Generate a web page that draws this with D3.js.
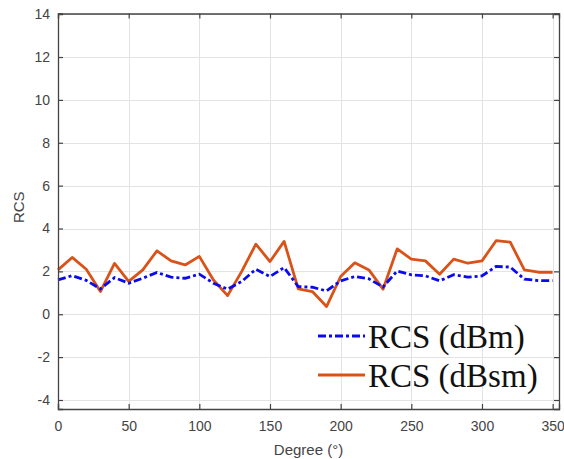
<!DOCTYPE html>
<html>
<head>
<meta charset="utf-8">
<script src="https://cdn.jsdelivr.net/npm/d3@7"></script>
<style>
  html, body { margin: 0; padding: 0; background: #fff; }
  svg { display: block; }
</style>
</head>
<body>
<svg id="chart" width="564" height="459"></svg>
<script>
// Scan angles in degrees
const degrees = [0,10,20,30,40,50,60,70,80,90,100,110,120,130,140,150,160,170,
                 180,190,200,210,220,230,240,250,260,270,280,290,300,310,320,330,340,350];
// RCS in dBm
const rcsDbm = [1.60,1.80,1.58,1.18,1.71,1.45,1.68,1.95,1.73,1.68,1.87,1.45,1.17,1.53,2.10,1.76,2.18,1.29,
                1.26,1.09,1.56,1.76,1.65,1.27,2.02,1.84,1.79,1.56,1.84,1.73,1.79,2.23,2.20,1.64,1.57,1.57];
// RCS in dBsm
const rcsDbsm = [2.07,2.65,2.10,1.06,2.37,1.53,2.07,2.96,2.49,2.30,2.70,1.60,0.87,2.00,3.27,2.46,3.40,1.18,
                 1.06,0.36,1.76,2.40,2.07,1.17,3.05,2.57,2.49,1.87,2.57,2.38,2.49,3.43,3.36,2.07,1.96,1.96];
const xTicks = [0,50,100,150,200,250,300,350];
const yTicks = [-4,-2,0,2,4,6,8,10,12,14];
const seriesNames = ["RCS (dBm)", "RCS (dBsm)"];

const svg = d3.select("#chart");
const plotLeft = 58, plotRight = 559, plotTop = 13.5, plotBottom = 409;

const x = d3.scaleLinear().domain([0, 354.5]).range([plotLeft, plotRight]);
const y = d3.scaleLinear().domain([-4.42, 14.03]).range([plotBottom, plotTop]);

const axisColor = "#444";
const tickFont = "Arial, 'Liberation Sans', sans-serif";
const plainNumber = d => String(d); // hyphen-minus for negatives

// grid
const grid = svg.append("g").attr("stroke", "#e3e3e3").attr("stroke-width", 1);
grid.selectAll(".gx").data(xTicks).join("line")
  .attr("x1", d => Math.round(x(d)) + 0.5).attr("x2", d => Math.round(x(d)) + 0.5)
  .attr("y1", plotTop).attr("y2", plotBottom);
grid.selectAll(".gy").data(yTicks).join("line")
  .attr("y1", d => Math.round(y(d)) + 0.5).attr("y2", d => Math.round(y(d)) + 0.5)
  .attr("x1", plotLeft).attr("x2", plotRight);

// axes with inward ticks
const xAxisB = d3.axisBottom(x).tickValues(xTicks).tickSize(-5).tickPadding(12).tickFormat(plainNumber);
const xAxisT = d3.axisTop(x).tickValues(xTicks).tickSize(-5).tickFormat("");
const yAxisL = d3.axisLeft(y).tickValues(yTicks).tickSize(-5).tickPadding(8).tickFormat(plainNumber);
const yAxisR = d3.axisRight(y).tickValues(yTicks).tickSize(-5).tickFormat("");

function styleAxis(g) {
  g.select(".domain").attr("stroke", axisColor).attr("stroke-width", 1.3);
  g.selectAll(".tick line").attr("stroke", axisColor).attr("stroke-width", 1.2);
  g.selectAll(".tick text").attr("fill", axisColor).style("font-family", tickFont).style("font-size", "14px");
}

// data lines
const line = d3.line().x((d, i) => x(degrees[i])).y(d => y(d));

svg.append("path").datum(rcsDbsm)
  .attr("d", line).attr("fill", "none")
  .attr("stroke", "#d95319").attr("stroke-width", 2.8).attr("stroke-linejoin", "round");

svg.append("path").datum(rcsDbm)
  .attr("d", line).attr("fill", "none")
  .attr("stroke", "#0a0aee").attr("stroke-width", 2.8)
  .attr("stroke-dasharray", "8,3,3,3");

svg.append("g").attr("transform", `translate(0,${plotBottom})`).call(xAxisB).call(styleAxis);
svg.append("g").attr("transform", `translate(0,${plotTop})`).call(xAxisT).call(styleAxis);
svg.append("g").attr("transform", `translate(${plotLeft},0)`).call(yAxisL).call(styleAxis);
svg.append("g").attr("transform", `translate(${plotRight},0)`).call(yAxisR).call(styleAxis);

// axis titles
svg.append("text")
  .attr("x", (plotLeft + plotRight) / 2).attr("y", 455)
  .attr("text-anchor", "middle")
  .attr("fill", axisColor).style("font-family", tickFont).style("font-size", "15px")
  .text("Degree (°)");

svg.append("text")
  .attr("transform", `translate(24,${(plotTop + plotBottom) / 2 - 4}) rotate(-90)`)
  .attr("text-anchor", "middle")
  .attr("fill", axisColor).style("font-family", tickFont).style("font-size", "15px")
  .text("RCS");

// legend
const legend = svg.append("g");
const legendRows = [
  { name: seriesNames[0], color: "#0a0aee", dash: "8,3,3,3", y: 336 },
  { name: seriesNames[1], color: "#d95319", dash: null, y: 375 }
];
legendRows.forEach(r => {
  legend.append("line")
    .attr("x1", 318).attr("x2", 365).attr("y1", r.y).attr("y2", r.y)
    .attr("stroke", r.color).attr("stroke-width", 2.8)
    .attr("stroke-dasharray", r.dash);
  legend.append("text")
    .attr("x", 368).attr("y", r.y + 12)
    .attr("fill", "#111")
    .style("font-family", "'Liberation Serif', 'Times New Roman', serif")
    .style("font-size", "33px")
    .text(r.name);
});
</script>
</body>
</html>
